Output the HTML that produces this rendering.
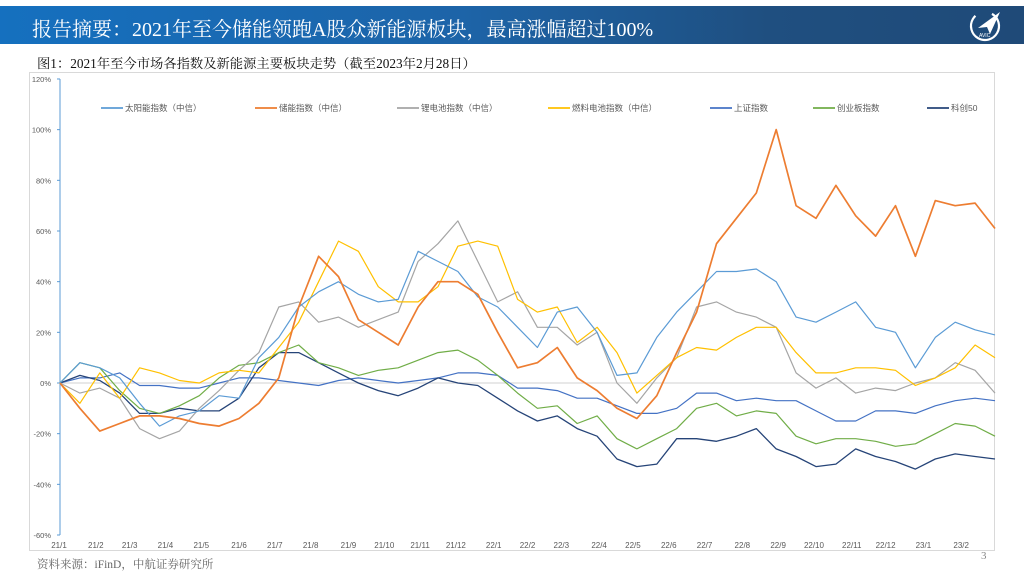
<!DOCTYPE html>
<html><head><meta charset="utf-8">
<style>
html,body{margin:0;padding:0;background:#fff;}
body{width:1024px;height:576px;position:relative;overflow:hidden;font-family:"Liberation Serif","Noto Serif CJK SC","Noto Sans CJK SC",serif;}
#hdr{position:absolute;left:0;top:6px;width:1024px;height:38px;background:linear-gradient(90deg,#1570bf 0%,#1d64a8 45%,#1f4f80 75%,#1f4a78 100%);}
#title{position:absolute;left:32px;top:7px;font-size:20px;color:#fff;white-space:nowrap;letter-spacing:0px;}
#sub{position:absolute;left:37px;top:53px;font-size:13.3px;color:#111;white-space:nowrap;}
#box{position:absolute;left:29px;top:72px;width:966px;height:479px;border:1px solid #d9d9d9;box-sizing:border-box;}
#src{position:absolute;left:37px;top:556px;font-size:11.5px;color:#666;white-space:nowrap;}
#pg{position:absolute;left:981px;top:550px;font-size:11px;color:#888;}
svg text{font-family:"Liberation Sans","Noto Sans CJK SC",sans-serif;}
</style></head>
<body>
<div id="hdr">
  <div id="title">报告摘要：2021年至今储能领跑A股众新能源板块，最高涨幅超过100%</div>
  <svg style="position:absolute;left:966px;top:2px" width="40" height="36" viewBox="0 0 40 36">
    <circle cx="19" cy="18" r="14" fill="none" stroke="#fff" stroke-width="2.2" stroke-dasharray="70 18" transform="rotate(-60 19 18)"/>
    <path d="M12 20 L34 4 L24 26 L21 19 Z" fill="#fff"/>
    <text x="13" y="29" font-size="5" fill="#fff">AVIC</text>
  </svg>
</div>
<div id="sub">图1：2021年至今市场各指数及新能源主要板块走势（截至2023年2月28日）</div>
<div id="box"></div>
<svg id="chart" style="position:absolute;left:0;top:0" width="1024" height="576"></svg>
<div id="src">资料来源：iFinD，中航证券研究所</div>
<div id="pg">3</div>
<script>
const yTicks = [120, 100, 80, 60, 40, 20, 0, -20, -40, -60];
const xLabels = ["21/1","21/2","21/3","21/4","21/5","21/6","21/7","21/8","21/9","21/10","21/11","21/12","22/1","22/2","22/3","22/4","22/5","22/6","22/7","22/8","22/9","22/10","22/11","22/12","23/1","23/2"];
const xLabelPos = [-0.05,1.8,3.5,5.3,7.1,9.0,10.8,12.6,14.5,16.3,18.1,19.9,21.8,23.5,25.2,27.1,28.8,30.6,32.4,34.3,36.1,37.9,39.8,41.5,43.4,45.3];
const solar = [0,8,6,2,-8,-17,-13,-11,-5,-6,10,18,30,36,40,35,32,33,52,48,44,34,30,22,14,28,30,20,3,4,18,28,36,44,44,45,40,26,24,28,32,22,20,6,18,24,21,19];
const storage = [0,-10,-19,-16,-13,-13,-14,-16,-17,-14,-8,2,30,50,42,25,20,15,30,40,40,35,20,6,8,14,2,-3,-10,-14,-5,12,28,55,65,75,100,70,65,78,66,58,70,50,72,70,71,61];
const lithium = [0,-4,-2,-6,-18,-22,-19,-10,-3,5,12,30,32,24,26,22,25,28,48,55,64,48,32,36,22,22,15,20,0,-8,2,10,30,32,28,26,22,4,-2,2,-4,-2,-3,0,2,8,5,-4];
const fuelcell = [0,-8,4,-6,6,4,1,0,4,5,4,14,24,40,56,52,38,32,32,38,54,56,54,33,28,30,16,22,12,-4,3,10,14,13,18,22,22,12,4,4,6,6,5,-1,2,6,15,10];
const sse = [0,2,2,4,-1,-1,-2,-2,0,2,2,1,0,-1,1,2,1,0,1,2,4,4,3,-2,-2,-3,-6,-6,-9,-12,-12,-10,-4,-4,-7,-6,-7,-7,-11,-15,-15,-11,-11,-12,-9,-7,-6,-7];
const chinext = [0,8,6,-3,-10,-12,-9,-5,2,7,8,12,15,8,6,3,5,6,9,12,13,9,3,-4,-10,-9,-16,-13,-22,-26,-22,-18,-10,-8,-13,-11,-12,-21,-24,-22,-22,-23,-25,-24,-20,-16,-17,-21];
const star50 = [0,3,1,-4,-12,-12,-10,-11,-11,-6,6,12,12,8,4,0,-3,-5,-2,2,0,-1,-6,-11,-15,-13,-18,-21,-30,-33,-32,-22,-22,-23,-21,-18,-26,-29,-33,-32,-26,-29,-31,-34,-30,-28,-29,-30];
const seriesNames = ["太阳能指数（中信）","储能指数（中信）","锂电池指数（中信）","燃料电池指数（中信）","上证指数","创业板指数","科创50"];

const X0=60, X1=995, Y0=383, PX=50.67/20;
const N = solar.length;
const xs = i => X0 + i*(X1-X0)/(N-1);
const ys = v => Y0 - v*PX;
const NS='http://www.w3.org/2000/svg';
const svg=document.getElementById('chart');
function mk(tag,attrs,parent){const e=document.createElementNS(NS,tag);for(const k in attrs)e.setAttribute(k,attrs[k]);(parent||svg).appendChild(e);return e;}

const zl=mk('line',{x1:X0,x2:X1,y1:ys(0),y2:ys(0),stroke:'#d9d9d9','stroke-width':1.2});


const ya=mk('line',{x1:X0,x2:X0,y1:ys(120),y2:ys(-60),stroke:'#5b9bd5','stroke-width':1});


yTicks.forEach(t=>{
  const tk=mk('line',{x1:X0-3,x2:X0,y1:ys(t),y2:ys(t),stroke:'#5b9bd5','stroke-width':1});
  
  
  const tx=mk('text',{x:51,y:ys(t)+3,'font-size':7.5,fill:'#595959','text-anchor':'end'});
  tx.textContent=t+'%';
  
  
});
xLabels.forEach((l,i)=>{
  const tx=mk('text',{x:xs(xLabelPos[i]),y:548,'font-size':8,fill:'#595959','text-anchor':'middle'});
  tx.textContent=l;
  
  
});

const data=[solar,storage,lithium,fuelcell,sse,chinext,star50];
const colors=['#5b9bd5','#ed7d31','#a5a5a5','#ffc000','#4472c4','#70ad47','#264478'];
const widths=[1.2,1.7,1.2,1.2,1.2,1.2,1.3];
const keys=['solar','storage','lithium','fuelcell','sse','chinext','star50'];
const order=[4,6,5,2,3,0,1];
order.forEach(k=>{
  const d=data[k].map((v,i)=>(i?'L':'M')+xs(i).toFixed(1)+' '+ys(v).toFixed(1)).join(' ');
  const p=mk('path',{d:d,fill:'none',stroke:colors[k],'stroke-width':widths[k],'stroke-linejoin':'round'});
  
  
});
const legX=[101,255,397,548,710,813,927];
seriesNames.forEach((n,k)=>{
  const g=mk('g',{});
  
  
  mk('line',{x1:legX[k],x2:legX[k]+22,y1:108,y2:108,stroke:colors[k],'stroke-width':1.8},g);
  const t=mk('text',{x:legX[k]+24,y:111,'font-size':8.5,fill:'#595959'},g);
  t.textContent=n;
});
</script>
</body></html>
